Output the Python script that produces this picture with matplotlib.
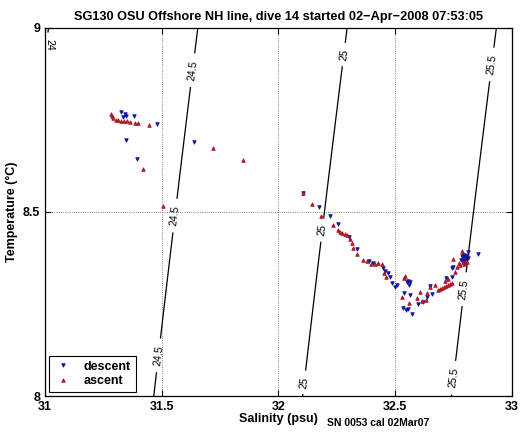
import numpy as np
import matplotlib
matplotlib.use('Agg')
import matplotlib.pyplot as plt

plt.rcParams['font.family'] = ['Liberation Sans', 'DejaVu Sans']

# descent (blue) samples: salinity (psu), temperature (C)
desc_sal = [31.325, 31.334, 31.343, 31.347, 31.381, 31.480, 31.347, 31.394, 31.638,
            32.105, 32.173, 32.221, 32.255, 32.302, 32.336, 32.388, 32.405, 32.448,
            32.456, 32.469, 32.478, 32.486, 32.499, 32.508, 32.538, 32.555, 32.550,
            32.563, 32.559, 32.563, 32.533, 32.546, 32.555, 32.572, 32.597, 32.619,
            32.636, 32.657, 32.649, 32.717, 32.743, 32.743, 32.747, 32.782, 32.790,
            32.803, 32.812, 32.795, 32.786, 32.812, 32.854, 32.799, 32.807, 32.790]
desc_temp = [8.772, 8.758, 8.766, 8.761, 8.761, 8.739, 8.696, 8.644, 8.690,
             8.552, 8.514, 8.489, 8.467, 8.432, 8.399, 8.367, 8.361, 8.348,
             8.340, 8.334, 8.323, 8.307, 8.296, 8.302, 8.280, 8.312, 8.310,
             8.310, 8.302, 8.274, 8.239, 8.234, 8.236, 8.223, 8.250, 8.255,
             8.269, 8.277, 8.299, 8.321, 8.323, 8.348, 8.351, 8.370, 8.375,
             8.378, 8.375, 8.383, 8.380, 8.391, 8.386, 8.370, 8.380, 8.364]

# ascent (red) samples
asc_sal = [31.283, 31.287, 31.291, 31.304, 31.313, 31.325, 31.338, 31.351, 31.364,
           31.385, 31.398, 31.445, 31.420, 31.505, 31.720, 31.848,
           32.105, 32.143, 32.182, 32.233, 32.255, 32.263, 32.272, 32.285, 32.293,
           32.306, 32.315, 32.319, 32.336, 32.362, 32.379, 32.396, 32.413, 32.426,
           32.443, 32.452, 32.460, 32.542, 32.538, 32.529, 32.559, 32.593, 32.606,
           32.615, 32.632, 32.636, 32.649, 32.670, 32.683, 32.692, 32.700, 32.709,
           32.717, 32.726, 32.735, 32.743, 32.713, 32.726, 32.756, 32.765, 32.747,
           32.773, 32.777, 32.790, 32.799, 32.807, 32.786, 32.795]
asc_temp = [8.766, 8.761, 8.755, 8.750, 8.750, 8.747, 8.747, 8.747, 8.745,
            8.742, 8.742, 8.736, 8.617, 8.516, 8.674, 8.641,
            8.552, 8.522, 8.489, 8.465, 8.451, 8.446, 8.443, 8.440, 8.438,
            8.427, 8.416, 8.402, 8.386, 8.370, 8.367, 8.359, 8.359, 8.361,
            8.359, 8.334, 8.323, 8.326, 8.321, 8.269, 8.253, 8.266, 8.283,
            8.258, 8.261, 8.280, 8.296, 8.302, 8.288, 8.291, 8.293, 8.296,
            8.299, 8.302, 8.304, 8.307, 8.312, 8.318, 8.337, 8.351, 8.372,
            8.361, 8.356, 8.364, 8.364, 8.364, 8.394, 8.359]

sigma_levels = [24, 24.5, 25, 25.5]
label_pos = [(31.012, 8.955),
             (31.62, 8.886), (31.557, 8.49), (31.48, 8.111),
             (32.285, 8.927), (32.186, 8.451), (32.10, 8.038),
             (32.92, 8.90), (32.82, 8.288), (32.756, 8.049)]

title = 'SG130 OSU Offshore NH line, dive 14 started 02\u2212Apr\u22122008 07:53:05'


def sigma_t(S, T):
    # UNESCO 1980 density at surface pressure, minus 1000
    rw = (999.842594 + 6.793952e-2 * T - 9.095290e-3 * T**2 + 1.001685e-4 * T**3
          - 1.120083e-6 * T**4 + 6.536332e-9 * T**5)
    a = 0.824493 - 4.0899e-3 * T + 7.6438e-5 * T**2 - 8.2467e-7 * T**3 + 5.3875e-9 * T**4
    b = -5.72466e-3 + 1.0227e-4 * T - 1.6546e-6 * T**2
    return rw + a * S + b * S**1.5 + 4.8314e-4 * S**2 - 1000.0


fig = plt.figure(figsize=(5.22, 4.42), dpi=100)
ax = fig.add_axes([0.086, 0.104, 0.895, 0.833])

# density contours
ss, tt = np.meshgrid(np.linspace(30.9, 33.1, 200), np.linspace(7.9, 9.1, 200))
cs = ax.contour(ss, tt, sigma_t(ss, tt), levels=sigma_levels, colors='k', linewidths=0.9)
labels = ax.clabel(cs, fmt='%g', fontsize=7.5, inline=True, inline_spacing=4, manual=label_pos)
for t in labels:
    if t.get_text() == '24':
        # the 24 isopycnal hugs the left spine; keep its label just inside
        t.set_position((31.02, 8.955))
        t.set_rotation(-90)

ax.plot(desc_sal, desc_temp, 'v', color='#1010d0', mec='#101080', ms=2.6, mew=0.5,
        linestyle='none', label='descent')
ax.plot(asc_sal, asc_temp, '^', color='#e01020', mec='#901020', ms=2.6, mew=0.5,
        linestyle='none', label='ascent')

ax.set_xlim(31, 33)
ax.set_ylim(8, 9)
ax.set_xticks([31, 31.5, 32, 32.5, 33])
ax.set_xticklabels(['31', '31.5', '32', '32.5', '33'])
ax.set_yticks([8, 8.5, 9])
ax.set_yticklabels(['8', '8.5', '9'])
ax.tick_params(direction='in', top=True, right=True, length=4, width=0.8, labelsize=9)
for lab in ax.get_xticklabels() + ax.get_yticklabels():
    lab.set_fontweight('bold')
ax.grid(True, linestyle=':', color='0.35', linewidth=0.6)
for sp in ax.spines.values():
    sp.set_linewidth(0.9)

ax.set_xlabel('Salinity (psu)', fontsize=9, fontweight='bold', labelpad=0)
ax.set_ylabel('Temperature (\u00b0C)', fontsize=9, fontweight='bold', labelpad=3)
ax.set_title(title, fontsize=9.2, fontweight='bold', pad=6)

leg = ax.legend(loc='lower left', prop={'weight': 'bold', 'size': 9}, fancybox=False,
                edgecolor='k', framealpha=1, borderaxespad=0.3, handlelength=1.5,
                markerscale=1.0, handletextpad=0.9, labelspacing=0.2)
leg.get_frame().set_linewidth(0.8)

fig.text(0.626, 0.036, 'SN 0053 cal 02Mar07', fontsize=7.5, fontweight='bold')

fig.savefig('out.png', dpi=100)
